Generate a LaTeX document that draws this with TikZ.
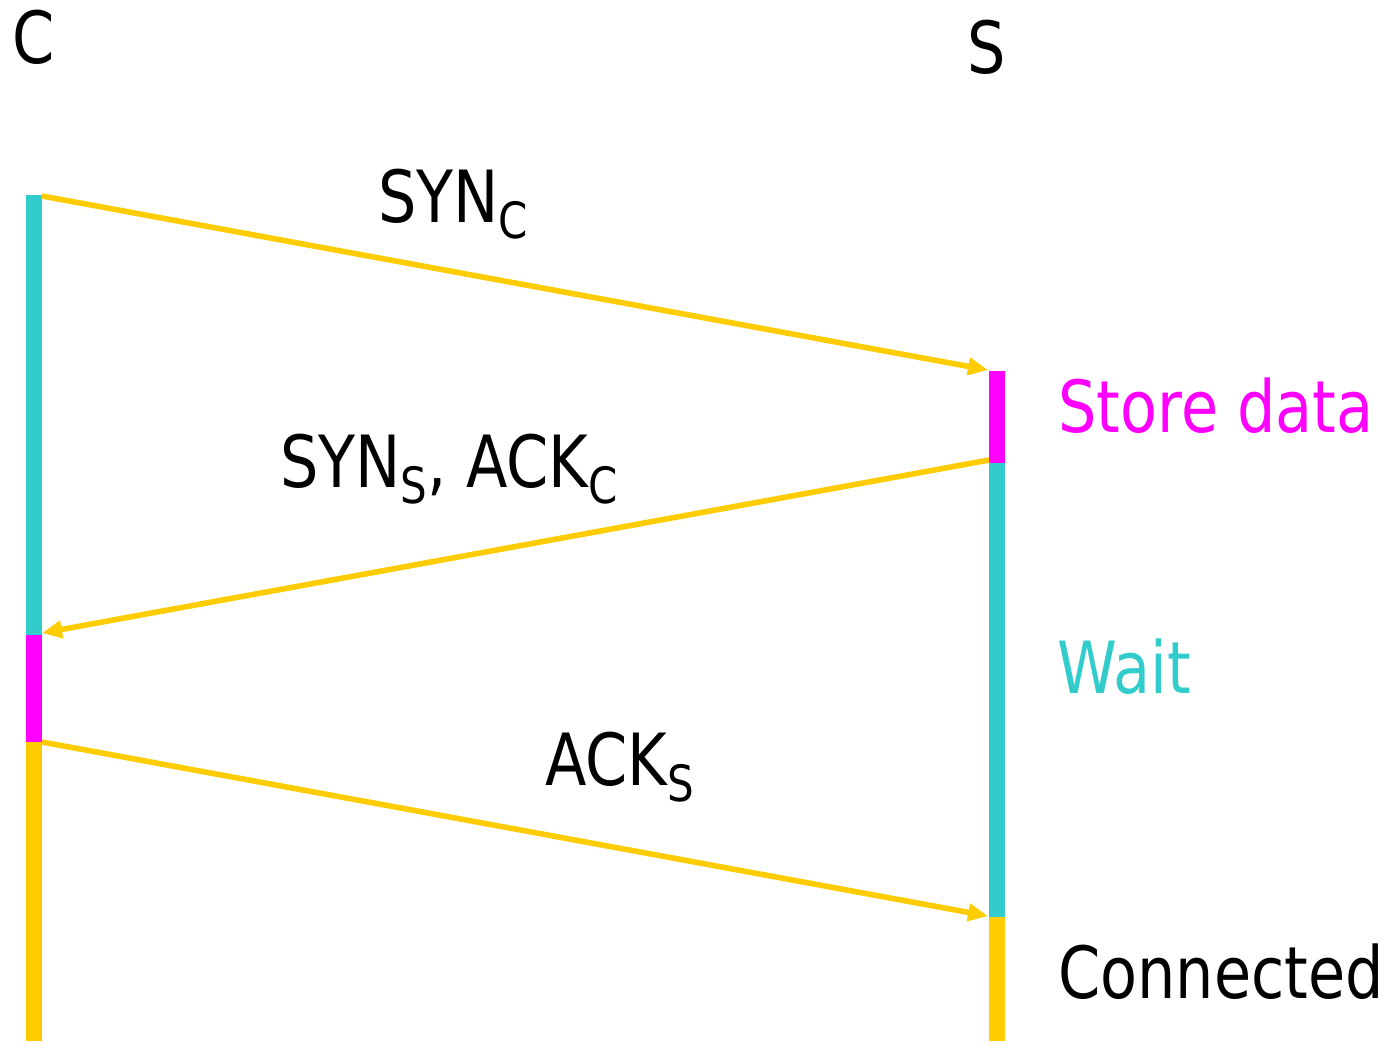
\documentclass[tikz,border=0pt]{standalone}
\usepackage{fontspec}
\setmainfont[FakeStretch=0.84]{DejaVu Sans}
\usetikzlibrary{arrows.meta}
\definecolor{waitcol}{HTML}{33CCCC}
\definecolor{storecol}{HTML}{FF00FF}
\definecolor{conncol}{HTML}{FFCC00}
\newcommand{\lowsub}[1]{\raisebox{-8pt}{\fontsize{25}{25}\selectfont #1}}

\begin{document}
\begin{tikzpicture}[x=0.5pt, y=-0.5pt,
  every node/.style={inner sep=0pt, font=\fontsize{36}{40}\selectfont},
  life/.style={line width=8pt},
  msg/.style={conncol, line width=2.8pt, -{Triangle[length=10pt, width=8.5pt]}}]
\useasboundingbox (0,0) rectangle (1386,1041);

\node[anchor=base] (C) at (34,63) {C};
\node[anchor=base] (S) at (987,73) {S};

\coordinate (c0) at (34,195);
\coordinate (c1) at (34,635);
\coordinate (c2) at (34,742);
\coordinate (c3) at (34,1041);
\coordinate (s0) at (997,371);
\coordinate (s1) at (997,463);
\coordinate (s2) at (997,917);
\coordinate (s3) at (997,1041);

\draw [life, waitcol] (c0) -- (c1);
\draw [life, storecol] (c1) -- (c2);
\draw [life, conncol] (c2) -- (c3);
\draw [life, storecol] (s0) -- (s1);
\draw [life, waitcol] (s1) -- (s2);
\draw [life, conncol] (s2) -- (s3);

\coordinate (a1) at (42,196);
\coordinate (b1) at (988,370);
\coordinate (b2) at (989,460);
\coordinate (a2) at (42,633);
\coordinate (a3) at (42,742);
\coordinate (b3) at (988,916);

\draw [msg] (a1) to (b1);
\draw [msg] (b2) to (a2);
\draw [msg] (a3) to (b3);

\node[anchor=base west] (syn) at (378,222) {SYN\lowsub{C}};
\node[anchor=base west] (synack) at (280,487) {SYN\lowsub{S}, ACK\lowsub{C}};
\node[anchor=base west] (ack) at (545,785) {ACK\lowsub{S}};

\node[anchor=base west, storecol] (store) at (1058,432) {Store data};
\node[anchor=base west, waitcol] (wait) at (1057,693) {Wait};
\node[anchor=base west] (conn) at (1058,998) {Connected};
\end{tikzpicture}
\end{document}
